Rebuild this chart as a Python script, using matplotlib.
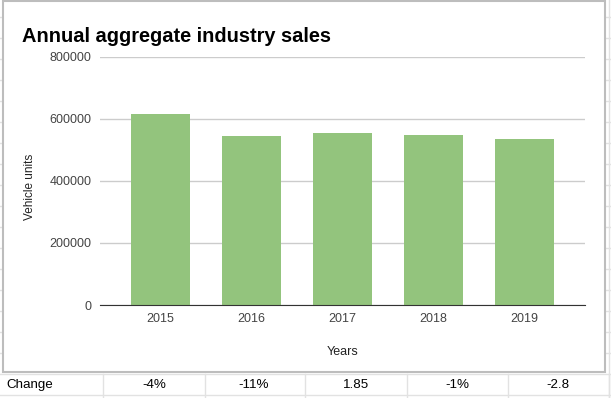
import matplotlib.pyplot as plt
from matplotlib.patches import Rectangle

years = ["2015", "2016", "2017", "2018", "2019"]
sales = [616000, 545000, 555000, 548000, 535000]
change_labels = ["-4%", "-11%", "1.85", "-1%", "-2.8"]

plt.rcParams['font.family'] = ['Liberation Sans', 'DejaVu Sans']

W, H = 611, 398
fig = plt.figure(figsize=(W / 100, H / 100), dpi=100)

# spreadsheet behind the chart, in pixel coords
bg = fig.add_axes([0, 0, 1, 1])
bg.set_xlim(0, W)
bg.set_ylim(H, 0)
bg.axis('off')
grid_col = '#e2e2e2'
for yy in range(17, H, 21):
    bg.plot([0, W], [yy, yy], color=grid_col, lw=1, zorder=1)
for xx in [103, 205, 305, 407, 508, 609]:
    bg.plot([xx, xx], [374, H], color=grid_col, lw=1, zorder=1)
bg.plot([609, 609], [0, H], color=grid_col, lw=1, zorder=1)

# chart card
bg.add_patch(Rectangle((3, 1), 602, 371, facecolor='white',
                       edgecolor='#bdbdbd', lw=1.5, zorder=2))

# change row
bg.text(6, 385, "Change", fontsize=9.6, va='center', ha='left', color='#000000', zorder=3)
for cx, lab in zip([154, 254, 356, 457, 558], change_labels):
    bg.text(cx, 385, lab, fontsize=9.6, va='center', ha='center', color='#000000', zorder=3)

# title
fig.text(22 / W, (H - 42) / H, "Annual aggregate industry sales",
         fontsize=14.4, fontweight='bold', color='#000000', va='baseline', ha='left')

# bar chart
ax = fig.add_axes([100 / W, (H - 305) / H, 485 / W, 248 / H])
ax.set_facecolor('none')
x = list(range(len(years)))
ax.bar(x, sales, width=0.65, color='#93c47d', zorder=3)
ax.set_xlim(-0.665, len(years) - 1 + 0.665)
ax.set_ylim(0, 800000)
ax.set_yticks([0, 200000, 400000, 600000, 800000])
ax.set_yticklabels(["0", "200000", "400000", "600000", "800000"])
ax.set_xticks(x)
ax.set_xticklabels(years)
ax.grid(axis='y', color='#cccccc', lw=1, zorder=0)
ax.tick_params(length=0, labelsize=9, labelcolor='#444444')
ax.tick_params(axis='y', pad=6)
ax.tick_params(axis='x', pad=6)
for s in ['top', 'right', 'left']:
    ax.spines[s].set_visible(False)
ax.spines['bottom'].set_color('#333333')
ax.spines['bottom'].set_zorder(4)
ax.set_xlabel("Years", fontsize=9, color='#222222', labelpad=15)
ax.set_ylabel("Vehicle units", fontsize=8.5, color='#222222', labelpad=10)
ax.yaxis.label.set_y(0.475)

fig.savefig("out.png", dpi=100)
